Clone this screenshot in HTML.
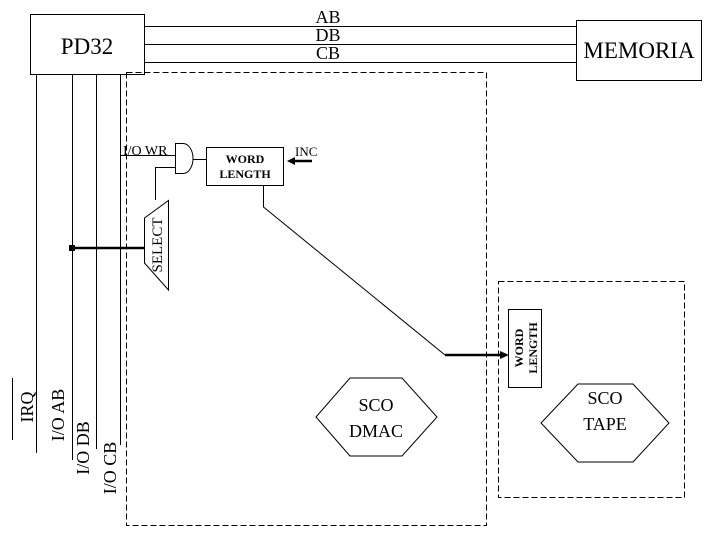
<!DOCTYPE html>
<html><head><meta charset="utf-8"><style>html,body{margin:0;padding:0;background:#fff}svg{display:block}</style></head>
<body>
<svg width="720" height="540" viewBox="0 0 720 540" xmlns="http://www.w3.org/2000/svg" font-family="Liberation Serif, serif">
<rect x="0" y="0" width="720" height="540" fill="#fff"/>
<g stroke="#000" stroke-width="1" fill="none">
<rect x="30.5" y="14.5" width="114" height="60"/>
<rect x="576.5" y="20.5" width="125" height="60"/>
<line x1="145" y1="26.5" x2="576" y2="26.5"/>
<line x1="145" y1="44.5" x2="576" y2="44.5"/>
<line x1="145" y1="62.5" x2="576" y2="62.5"/>
<rect x="126.5" y="72.5" width="360" height="453" stroke-dasharray="6,3"/>
<rect x="498.5" y="281.5" width="186" height="216" stroke-dasharray="6,3"/>
<line x1="36.5" y1="74" x2="36.5" y2="453"/>
<line x1="72.5" y1="74" x2="72.5" y2="460"/>
<line x1="96.5" y1="74" x2="96.5" y2="449"/>
<line x1="120.5" y1="74" x2="120.5" y2="445"/>
<line x1="12.5" y1="378" x2="12.5" y2="440"/>
<line x1="120" y1="155.5" x2="175" y2="155.5"/>
<path d="M175.5 143.5 H183 A10 15 0 0 1 183 173.5 H175.5 Z"/>
<line x1="193" y1="159.5" x2="206" y2="159.5"/>
<rect x="206.5" y="147.5" width="77" height="38"/>
<polyline points="175,167.5 155.5,167.5 155.5,200"/>
<polygon points="168.5,200.5 168.5,290 144.5,263 144.5,218"/>
<polyline points="263.5,185 263.5,207 445,355"/>
<rect x="508.5" y="309.5" width="33" height="78"/>
<polygon points="316,417 350,378 402,378 437,417 402,456 350,456"/>
<polygon points="541,423 578,384 633,384 669,423 633,462 578,462"/>
</g>
<line x1="72" y1="248" x2="144" y2="248" stroke="#000" stroke-width="2.5"/>
<rect x="69" y="245" width="6" height="6" fill="#000"/>
<line x1="445" y1="355" x2="502" y2="355" stroke="#000" stroke-width="2.5"/>
<polygon points="509,355 500,351 500,359" fill="#000"/>
<line x1="312" y1="161" x2="294" y2="161" stroke="#000" stroke-width="2.5"/>
<polygon points="287,161 295,157 295,165" fill="#000"/>
<g fill="#000">
<text x="87" y="54" font-size="23" text-anchor="middle">PD32</text>
<text x="639" y="58" font-size="23" text-anchor="middle">MEMORIA</text>
<text x="328" y="23" font-size="18" text-anchor="middle">AB</text>
<text x="328" y="41" font-size="18" text-anchor="middle">DB</text>
<text x="328" y="59" font-size="18" text-anchor="middle">CB</text>
<text x="123" y="155" font-size="14">I/O WR</text>
<text x="295" y="156" font-size="13">INC</text>
<text x="245" y="163" font-size="12" font-weight="bold" text-anchor="middle">WORD</text>
<text x="245" y="178" font-size="12" font-weight="bold" text-anchor="middle">LENGTH</text>
<text transform="translate(162,245) rotate(-90)" font-size="15" text-anchor="middle">SELECT</text>
<text transform="translate(523,348) rotate(-90)" font-size="12" font-weight="bold" text-anchor="middle">WORD</text>
<text transform="translate(537,348) rotate(-90)" font-size="12" font-weight="bold" text-anchor="middle">LENGTH</text>
<text x="376" y="411" font-size="18" text-anchor="middle">SCO</text>
<text x="376" y="437" font-size="18" text-anchor="middle">DMAC</text>
<text x="605" y="404" font-size="18" text-anchor="middle">SCO</text>
<text x="605" y="430" font-size="18" text-anchor="middle">TAPE</text>
<text transform="translate(33,407) rotate(-90)" font-size="18" text-anchor="middle">IRQ</text>
<text transform="translate(64,415) rotate(-90)" font-size="18" text-anchor="middle">I/O AB</text>
<text transform="translate(89,448) rotate(-90)" font-size="18" text-anchor="middle">I/O DB</text>
<text transform="translate(116,468) rotate(-90)" font-size="18" text-anchor="middle">I/O CB</text>
</g>
</svg>
</body></html>
